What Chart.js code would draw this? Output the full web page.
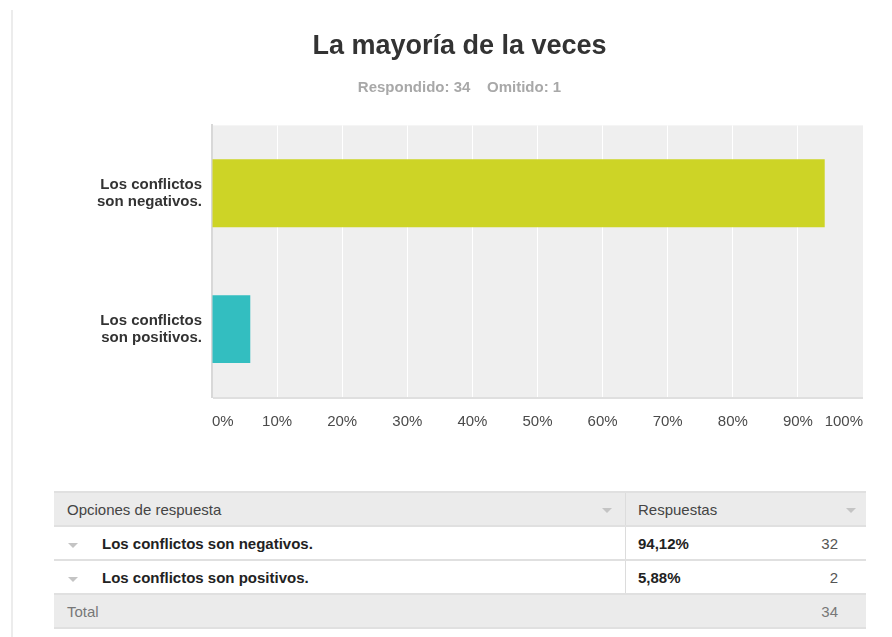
<!DOCTYPE html>
<html>
<head>
<meta charset="utf-8">
<script src="https://cdn.jsdelivr.net/npm/chart.js@4.4.1/dist/chart.umd.min.js"></script>
<style>
html,body{margin:0;padding:0;background:#fff;width:892px;height:637px;overflow:hidden;font-family:"Liberation Sans",Arial,sans-serif;}
#wrap{position:absolute;left:0;top:0;width:892px;height:450px;}
#vline{position:absolute;left:11px;top:10px;width:2px;height:627px;background:#ececec;}
#tbl{position:absolute;left:54px;top:491px;width:812px;border-top:2px solid #e0e0e0;font-size:15px;}
.row{position:relative;height:34px;box-sizing:border-box;border-bottom:2px solid #e0e0e0;display:flex;}
.c1{position:relative;width:571px;height:32px;line-height:34px;}
.c2{position:relative;width:241px;height:32px;line-height:34px;border-left:1px solid #dcdcdc;box-sizing:border-box;}
.gray{background:#ebebeb;}
.tri{position:absolute;width:0;height:0;border-left:5px solid transparent;border-right:5px solid transparent;border-top:5px solid #c4c4c4;top:15px;}
.t{position:absolute;white-space:nowrap;}
</style>
</head>
<body>
<div id="vline"></div>
<div id="wrap"><canvas id="c" width="892" height="450"></canvas></div>
<div id="tbl"></div>
<script>
// ---- data ----
const categories = [['Los conflictos', 'son negativos.'], ['Los conflictos', 'son positivos.']];
const percentValues = [94.12, 5.88];
const barColors = ['#cdd426', '#33bec0'];
const xTickValues = [0, 10, 20, 30, 40, 50, 60, 70, 80, 90, 100];
const chartTitle = 'La mayoría de la veces';
const chartSubtitle = 'Respondido: 34    Omitido: 1';
const tableHeaders = ['Opciones de respuesta', 'Respuestas'];
const tableLabels = ['Los conflictos son negativos.', 'Los conflictos son positivos.'];
const tablePercents = ['94,12%', '5,88%'];
const tableCounts = [32, 2];
const totalLabel = 'Total';
const totalCount = 34;

Chart.defaults.font.family = "'Liberation Sans', Arial, sans-serif";

const plotBg = {
  id: 'plotBg',
  beforeDraw(chart) {
    const { ctx, chartArea: a } = chart;
    ctx.save();
    ctx.fillStyle = '#efefef';
    ctx.fillRect(a.left, a.top, a.right - a.left, a.bottom - a.top);
    ctx.fillStyle = '#dfdfdf';
    ctx.fillRect(a.left + 1, a.bottom, a.right - a.left - 1, 2);
    ctx.restore();
  }
};

new Chart(document.getElementById('c'), {
  type: 'bar',
  data: {
    labels: categories,
    datasets: [{
      data: percentValues,
      backgroundColor: barColors,
      borderWidth: 0,
      barPercentage: 1,
      categoryPercentage: 0.5
    }]
  },
  options: {
    indexAxis: 'y',
    responsive: false,
    animation: false,
    layout: { padding: { left: 56, right: 29, top: 0, bottom: 0 } },
    plugins: {
      legend: { display: false },
      tooltip: { enabled: false },
      title: {
        display: true, text: chartTitle, color: '#333',
        font: { size: 27, weight: 'bold' },
        padding: { top: 30, bottom: 16 }
      },
      subtitle: {
        display: true, text: chartSubtitle, color: '#a8a8a8',
        font: { size: 15, weight: 'bold' },
        padding: { top: 0, bottom: 29 }
      }
    },
    scales: {
      x: {
        min: 0, max: 100, position: 'bottom',
        grid: { color: '#ffffff', lineWidth: 1, drawTicks: false },
        border: { display: false },
        ticks: { align: 'inner', padding: 16, color: '#4a4a4a', font: { size: 15 }, callback: v => v + '%' },
        afterBuildTicks(s) { s.ticks = xTickValues.map(v => ({ value: v })); },
        afterFit(s) { s.height = 53; }
      },
      y: {
        grid: { display: false, drawTicks: false },
        border: { display: true, color: '#d8d8d8', width: 2 },
        ticks: { padding: 10, color: '#333', font: { size: 15, weight: 'bold', lineHeight: 1.15 } },
        afterFit(s) { s.width = 156; }
      }
    }
  },
  plugins: [plotBg]
});

// ---- table ----
const tbl = document.getElementById('tbl');
function el(tag, cls, parent, style, text) {
  const e = document.createElement(tag);
  if (cls) e.className = cls;
  if (style) e.setAttribute('style', style);
  if (text !== undefined) e.textContent = text;
  parent.appendChild(e);
  return e;
}
// header
let r = el('div', 'row gray', tbl);
let c = el('div', 'c1', r);
el('span', 't', c, 'left:13px;color:#444;', tableHeaders[0]);
el('span', 'tri', c, 'right:13px;');
c = el('div', 'c2', r);
el('span', 't', c, 'left:12px;color:#444;', tableHeaders[1]);
el('span', 'tri', c, 'right:10px;');
// body
for (let i = 0; i < tableLabels.length; i++) {
  r = el('div', 'row', tbl);
  c = el('div', 'c1', r);
  el('span', 'tri', c, 'left:14px;top:16px;');
  el('span', 't', c, 'left:48px;color:#222;font-weight:bold;', tableLabels[i]);
  c = el('div', 'c2', r);
  el('span', 't', c, 'left:12px;color:#222;font-weight:bold;', tablePercents[i]);
  el('span', 't', c, 'right:28px;color:#555;', String(tableCounts[i]));
}
// total
r = el('div', 'row gray', tbl);
c = el('div', 'c1', r);
el('span', 't', c, 'left:13px;color:#777;', totalLabel);
c = el('div', 'c2', r, 'border-left:none;');
el('span', 't', c, 'right:28px;color:#777;', String(totalCount));
</script>
</body>
</html>
